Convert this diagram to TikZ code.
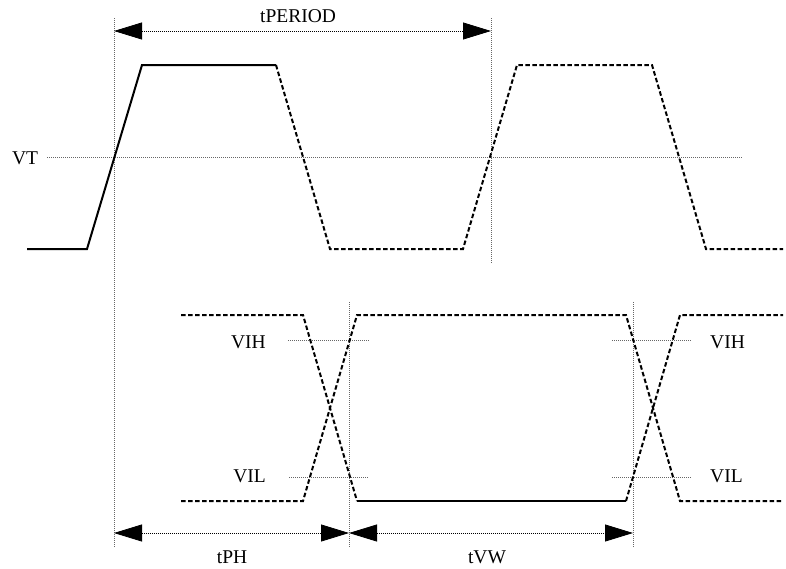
\documentclass[tikz,border=0pt]{standalone}
\usepackage{fontspec}
\setmainfont{Liberation Serif}
\usetikzlibrary{arrows.meta}
\begin{document}
\begin{tikzpicture}[x=1pt,y=-1pt,
  wave/.style={line width=2pt,line join=miter},
  wavedash/.style={wave,dash pattern=on 4.5pt off 2.5pt},
  guide/.style={line width=0.8pt,draw=black!60,dash pattern=on 1pt off 1pt},
  dimline/.style={line width=0.8pt,draw=black,dash pattern=on 1pt off 1pt,
    {Triangle[length=28pt,width=17pt,fill=black]}-{Triangle[length=28pt,width=17pt,fill=black]}},
  lbl/.style={inner sep=0pt,font=\fontsize{19.5}{22}\selectfont}]
\useasboundingbox (0,0) rectangle (786,568);
% guide lines
\coordinate (vtL) at (47,157); \coordinate (vtR) at (743,157);
\draw[guide] (vtL) -- (vtR);
\coordinate (g1t) at (114,18); \coordinate (g1b) at (114,547);
\coordinate (g2t) at (491,18); \coordinate (g2b) at (491,263);
\coordinate (g3t) at (349,302); \coordinate (g3b) at (349,547);
\coordinate (g4t) at (633,302); \coordinate (g4b) at (633,547);
\draw[guide] (g1t) -- (g1b);
\draw[guide] (g2t) -- (g2b);
\draw[guide] (g3t) -- (g3b);
\draw[guide] (g4t) -- (g4b);
\coordinate (vihLa) at (288,340); \coordinate (vihLb) at (369,340);
\coordinate (vilLa) at (289,477); \coordinate (vilLb) at (369,477);
\coordinate (vihRa) at (612,340); \coordinate (vihRb) at (692,340);
\coordinate (vilRa) at (612,477); \coordinate (vilRb) at (692,477);
\draw[guide] (vihLa) -- (vihLb);
\draw[guide] (vilLa) -- (vilLb);
\draw[guide] (vihRa) -- (vihRb);
\draw[guide] (vilRa) -- (vilRb);
% top waveform
\draw[wave] (27,249) -- (87,249) -- (142,65) -- (276,65);
\draw[wavedash] (276,65) -- (330,249) -- (463,249) -- (517,65) -- (652,65) -- (706,249) -- (783,249);
% bottom waveforms
\draw[wavedash] (181,315) -- (303,315) -- (357,501);
\draw[wavedash] (181,501) -- (303,501) -- (357,315) -- (626,315) -- (680,501) -- (783,501);
\draw[wave] (357,501) -- (626,501);
\draw[wavedash] (626,501) -- (680,315) -- (783,315);
% dimension arrows
\coordinate (pA) at (114,31); \coordinate (pB) at (491,31);
\draw[dimline] (pA) -- (pB);
\coordinate (hA) at (114,533); \coordinate (hB) at (349,533); \coordinate (wB) at (633,533);
\draw[dimline] (hA) -- (hB);
\draw[dimline] (hB) -- (wB);
% labels
\node[lbl] (tperiod) at (298,16) {tPERIOD};
\node[lbl] (vt) at (25,158) {VT};
\node[lbl,anchor=east] (vihl) at (266,342) {VIH};
\node[lbl,anchor=east] (vill) at (266,476) {VIL};
\node[lbl,anchor=west] (vihr) at (710,342) {VIH};
\node[lbl,anchor=west] (vilr) at (710,476) {VIL};
\node[lbl] (tph) at (232,557) {tPH};
\node[lbl] (tvw) at (487,557) {tVW};
\end{tikzpicture}
\end{document}
